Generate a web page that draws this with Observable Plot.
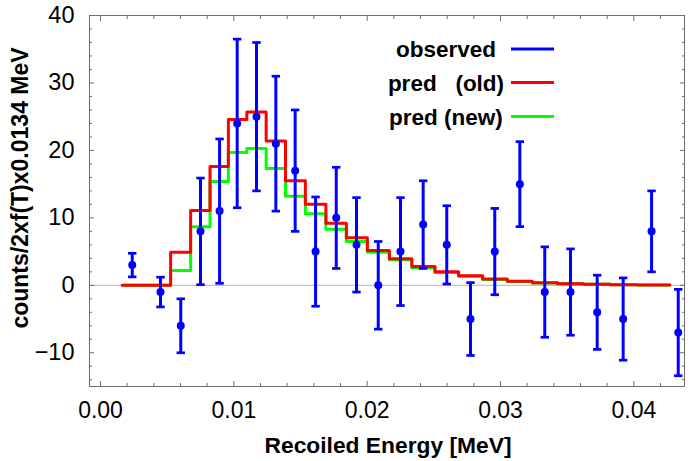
<!DOCTYPE html>
<html><head><meta charset="utf-8">
<script src="https://cdn.jsdelivr.net/npm/d3@7"></script>
<script src="https://cdn.jsdelivr.net/npm/@observablehq/plot@0.6"></script>
<style>
body{margin:0;background:#fff;}
#chart svg{display:block;}
</style></head><body><div id="chart"></div>
<script>
// ---- data ----
const energy = [0.00238,0.0045,0.00602,0.0075,0.00893,0.01025,0.0117,0.01315,0.0146,0.01613,0.01768,0.0192,0.02083,0.0225,0.0242,0.02597,0.02775,0.02957,0.03145,0.03332,0.03525,0.03725,0.0392,0.04133,0.04333];
const observed = [3,-1,-6,8,11,24,25,21,17,5,10,6,0,5,9,6,-5,5,15,-1,-1,-4,-5,8,-7];
const obsError = [1.75,2.2,4,7.9,10.7,12.5,11,10,9,8.1,7.5,7,6.5,8,6.5,5.8,5.4,6.4,6.3,6.7,6.4,5.5,6.1,6,6.4];
const predOld = [0,0,4.92,11.1,17.6,24.6,25.7,21.4,15.5,12.0,9.2,7.05,5.17,3.94,2.8,2.0,1.43,0.94,0.59,0.39,0.24,0.15,0.1,0.05];
const predNew = [0,0,2.2,8.7,15.4,19.7,20.3,17.3,13.2,10.6,8.3,6.5,4.9,3.8,2.6,1.9,1.35,0.88,0.55,0.36,0.22,0.14,0.09,0.05];
const predStart = 0.00163, predEnd = 0.0427;
const xMajor = [0, 0.01, 0.02, 0.03, 0.04];
const xTickLabels = ["0.00", "0.01", "0.02", "0.03", "0.04"];
const yMajor = [-10, 0, 10, 20, 30, 40];
const xMinor = d3.range(0, 22).filter(i => i % 5 !== 0).map(i => i * 0.002);
const yMinor = d3.range(-7, 21).map(i => i * 2).filter(v => v % 10 !== 0);
const legendLabels = ["observed", "pred   (old)", "pred (new)"];
const seriesColors = ["#0000ff", "#ff0000", "#00ff00"];
const xTitle = "Recoiled Energy [MeV]";
const yTitle = "counts/2xf(T)x0.0134 MeV";

// ---- tables ----
const obsRows = energy.map((x, i) => ({x, y: observed[i], lo: observed[i] - obsError[i], hi: observed[i] + obsError[i]}));
function stepRows(vals) {
  const xs = [predStart, ...energy.slice(0, vals.length), predEnd];
  return xs.map((x, i) => ({x, y: vals[Math.min(Math.max(i - 1, 0), vals.length - 1)]}));
}
const oldRows = stepRows(predOld);
const newRows = stepRows(predNew);

const capSymbol = {draw(ctx, size) { const w = Math.sqrt(size / Math.PI); ctx.moveTo(-w, 0); ctx.lineTo(w, 0); }};
const frameColor = "#6e6e6e";
const FONT = "'Liberation Sans', Arial, sans-serif";

const chart = Plot.plot({
  width: 692, height: 461,
  marginLeft: 89, marginRight: 8, marginTop: 15, marginBottom: 75,
  style: {fontFamily: FONT, background: "white", color: "black"},
  x: {domain: [-0.000825, 0.0438]},
  y: {domain: [-15, 40]},
  marks: [
    Plot.ruleY([0], {stroke: "#b3b3b3", strokeWidth: 1}),
    Plot.line(newRows, {x: "x", y: "y", curve: "step", stroke: seriesColors[2], strokeWidth: 3}),
    Plot.line(oldRows, {x: "x", y: "y", curve: "step", stroke: seriesColors[1], strokeWidth: 3}),
    Plot.ruleX(obsRows, {x: "x", y1: "lo", y2: "hi", stroke: seriesColors[0], strokeWidth: 3}),
    Plot.dot(obsRows, {x: "x", y: "hi", symbol: capSymbol, r: 4.2, stroke: seriesColors[0], strokeWidth: 2.7, fill: "none"}),
    Plot.dot(obsRows, {x: "x", y: "lo", symbol: capSymbol, r: 4.2, stroke: seriesColors[0], strokeWidth: 2.7, fill: "none"}),
    Plot.dot(obsRows, {x: "x", y: "y", r: 4, fill: seriesColors[0], stroke: "none"}),
    Plot.frame({stroke: frameColor}),
    Plot.axisX(xMajor, {anchor: "bottom", tickSize: -5, stroke: frameColor, tickPadding: 20, fontSize: 23, fill: "black", tickFormat: d => xTickLabels[xMajor.indexOf(d)], label: null}),
    Plot.axisX(xMinor, {anchor: "bottom", tickSize: -3, stroke: frameColor, fill: "none", label: null}),
    Plot.axisX(xMajor, {anchor: "top", tickSize: -5, stroke: frameColor, fill: "none", label: null}),
    Plot.axisX(xMinor, {anchor: "top", tickSize: -3, stroke: frameColor, fill: "none", label: null}),
    Plot.axisY(yMajor, {anchor: "left", tickSize: -5, stroke: frameColor, tickPadding: 20, fontSize: 23.5, fill: "black", label: null}),
    Plot.axisY(yMinor, {anchor: "left", tickSize: -3, stroke: frameColor, fill: "none", label: null}),
    Plot.axisY(yMajor, {anchor: "right", tickSize: -5, stroke: frameColor, fill: "none", label: null}),
    Plot.axisY(yMinor, {anchor: "right", tickSize: -3, stroke: frameColor, fill: "none", label: null})
  ]
});
document.getElementById("chart").appendChild(chart);

// ---- titles and legend ----
const svg = d3.select(chart);
svg.append("text").attr("x", 388).attr("y", 453).attr("text-anchor", "middle")
  .attr("font-family", FONT).attr("font-weight", "bold").attr("font-size", 22.8).attr("fill", "black").text(xTitle);
svg.append("text").attr("transform", "translate(28,188) rotate(-90)").attr("text-anchor", "middle")
  .attr("font-family", FONT).attr("font-weight", "bold").attr("font-size", 23).attr("fill", "black").text(yTitle);
const legendBase = [56.7, 91.2, 124.8];
const legendLineY = [49, 82.5, 116.5];
legendLabels.forEach((lab, i) => {
  svg.append("text").attr("x", 446).attr("y", legendBase[i]).attr("text-anchor", "middle")
    .attr("font-family", FONT).attr("font-weight", "bold").attr("font-size", 22.5)
    .attr("fill", "black").style("white-space", "pre").attr("xml:space", "preserve").text(lab);
  svg.append("line").attr("x1", 511).attr("x2", 554).attr("y1", legendLineY[i]).attr("y2", legendLineY[i])
    .attr("stroke", seriesColors[i]).attr("stroke-width", 3.2);
});
</script></body></html>
